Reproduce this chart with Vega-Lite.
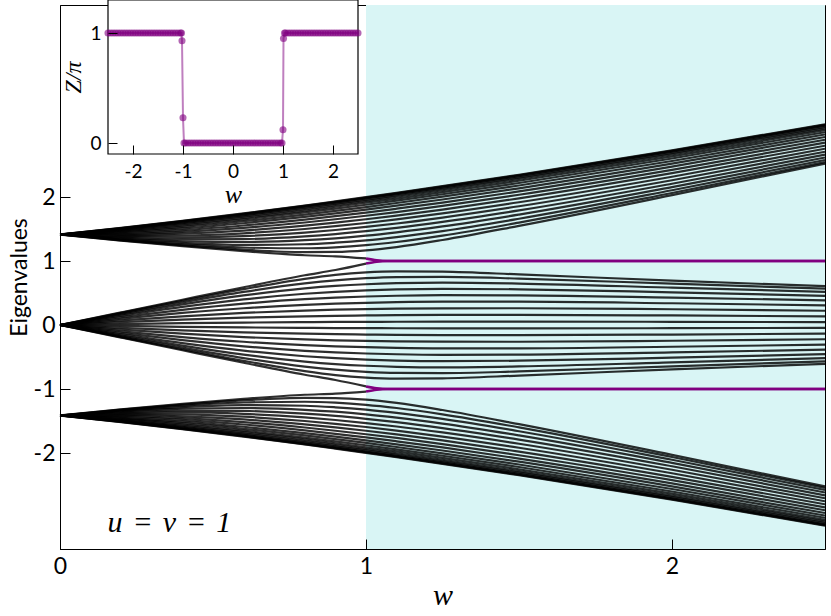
{
"$schema": "https://vega.github.io/schema/vega-lite/v6.json",
"width": 765, "height": 544,
"autosize": {"type": "none"},
"padding": {"left": 60, "top": 5, "right": 6, "bottom": 67},
"background": "white",
"config": {"view": {"stroke": "#000", "strokeWidth": 1}, "font": "Lato"},
"datasets": {
"bands": [
{"w":0,"E":1.414,"line":"T1"},{"w":0.2,"E":1.517,"line":"T1"},{"w":0.4,"E":1.627,"line":"T1"},{"w":0.6,"E":1.744,"line":"T1"},{"w":0.8,"E":1.867,"line":"T1"},{"w":0.9,"E":1.932,"line":"T1"},{"w":1,"E":1.998,"line":"T1"},{"w":1.1,"E":2.065,"line":"T1"},{"w":1.25,"E":2.169,"line":"T1"},{"w":1.5,"E":2.348,"line":"T1"},{"w":2,"E":2.729,"line":"T1"},{"w":2.5,"E":3.135,"line":"T1"},
{"w":0,"E":1.414,"line":"T2"},{"w":0.2,"E":1.514,"line":"T2"},{"w":0.4,"E":1.622,"line":"T2"},{"w":0.6,"E":1.738,"line":"T2"},{"w":0.8,"E":1.861,"line":"T2"},{"w":0.9,"E":1.925,"line":"T2"},{"w":1,"E":1.990,"line":"T2"},{"w":1.1,"E":2.057,"line":"T2"},{"w":1.25,"E":2.161,"line":"T2"},{"w":1.5,"E":2.340,"line":"T2"},{"w":2,"E":2.721,"line":"T2"},{"w":2.5,"E":3.127,"line":"T2"},
{"w":0,"E":1.414,"line":"T3"},{"w":0.2,"E":1.510,"line":"T3"},{"w":0.4,"E":1.614,"line":"T3"},{"w":0.6,"E":1.728,"line":"T3"},{"w":0.8,"E":1.849,"line":"T3"},{"w":0.9,"E":1.913,"line":"T3"},{"w":1,"E":1.978,"line":"T3"},{"w":1.1,"E":2.044,"line":"T3"},{"w":1.25,"E":2.147,"line":"T3"},{"w":1.5,"E":2.326,"line":"T3"},{"w":2,"E":2.708,"line":"T3"},{"w":2.5,"E":3.114,"line":"T3"},
{"w":0,"E":1.414,"line":"T4"},{"w":0.2,"E":1.503,"line":"T4"},{"w":0.4,"E":1.604,"line":"T4"},{"w":0.6,"E":1.714,"line":"T4"},{"w":0.8,"E":1.833,"line":"T4"},{"w":0.9,"E":1.896,"line":"T4"},{"w":1,"E":1.960,"line":"T4"},{"w":1.1,"E":2.027,"line":"T4"},{"w":1.25,"E":2.129,"line":"T4"},{"w":1.5,"E":2.307,"line":"T4"},{"w":2,"E":2.689,"line":"T4"},{"w":2.5,"E":3.096,"line":"T4"},
{"w":0,"E":1.414,"line":"T5"},{"w":0.2,"E":1.495,"line":"T5"},{"w":0.4,"E":1.590,"line":"T5"},{"w":0.6,"E":1.697,"line":"T5"},{"w":0.8,"E":1.813,"line":"T5"},{"w":0.9,"E":1.875,"line":"T5"},{"w":1,"E":1.938,"line":"T5"},{"w":1.1,"E":2.004,"line":"T5"},{"w":1.25,"E":2.105,"line":"T5"},{"w":1.5,"E":2.283,"line":"T5"},{"w":2,"E":2.665,"line":"T5"},{"w":2.5,"E":3.073,"line":"T5"},
{"w":0,"E":1.414,"line":"T6"},{"w":0.2,"E":1.486,"line":"T6"},{"w":0.4,"E":1.574,"line":"T6"},{"w":0.6,"E":1.675,"line":"T6"},{"w":0.8,"E":1.788,"line":"T6"},{"w":0.9,"E":1.849,"line":"T6"},{"w":1,"E":1.911,"line":"T6"},{"w":1.1,"E":1.976,"line":"T6"},{"w":1.25,"E":2.077,"line":"T6"},{"w":1.5,"E":2.254,"line":"T6"},{"w":2,"E":2.636,"line":"T6"},{"w":2.5,"E":3.045,"line":"T6"},
{"w":0,"E":1.414,"line":"T7"},{"w":0.2,"E":1.475,"line":"T7"},{"w":0.4,"E":1.555,"line":"T7"},{"w":0.6,"E":1.650,"line":"T7"},{"w":0.8,"E":1.759,"line":"T7"},{"w":0.9,"E":1.818,"line":"T7"},{"w":1,"E":1.879,"line":"T7"},{"w":1.1,"E":1.943,"line":"T7"},{"w":1.25,"E":2.043,"line":"T7"},{"w":1.5,"E":2.219,"line":"T7"},{"w":2,"E":2.602,"line":"T7"},{"w":2.5,"E":3.013,"line":"T7"},
{"w":0,"E":1.414,"line":"T8"},{"w":0.2,"E":1.463,"line":"T8"},{"w":0.4,"E":1.533,"line":"T8"},{"w":0.6,"E":1.622,"line":"T8"},{"w":0.8,"E":1.726,"line":"T8"},{"w":0.9,"E":1.783,"line":"T8"},{"w":1,"E":1.843,"line":"T8"},{"w":1.1,"E":1.906,"line":"T8"},{"w":1.25,"E":2.005,"line":"T8"},{"w":1.5,"E":2.180,"line":"T8"},{"w":2,"E":2.563,"line":"T8"},{"w":2.5,"E":2.977,"line":"T8"},
{"w":0,"E":1.414,"line":"T9"},{"w":0.2,"E":1.450,"line":"T9"},{"w":0.4,"E":1.509,"line":"T9"},{"w":0.6,"E":1.590,"line":"T9"},{"w":0.8,"E":1.688,"line":"T9"},{"w":0.9,"E":1.743,"line":"T9"},{"w":1,"E":1.802,"line":"T9"},{"w":1.1,"E":1.864,"line":"T9"},{"w":1.25,"E":1.961,"line":"T9"},{"w":1.5,"E":2.136,"line":"T9"},{"w":2,"E":2.521,"line":"T9"},{"w":2.5,"E":2.938,"line":"T9"},
{"w":0,"E":1.414,"line":"T10"},{"w":0.2,"E":1.436,"line":"T10"},{"w":0.4,"E":1.483,"line":"T10"},{"w":0.6,"E":1.555,"line":"T10"},{"w":0.8,"E":1.647,"line":"T10"},{"w":0.9,"E":1.700,"line":"T10"},{"w":1,"E":1.756,"line":"T10"},{"w":1.1,"E":1.817,"line":"T10"},{"w":1.25,"E":1.913,"line":"T10"},{"w":1.5,"E":2.087,"line":"T10"},{"w":2,"E":2.474,"line":"T10"},{"w":2.5,"E":2.895,"line":"T10"},
{"w":0,"E":1.414,"line":"T11"},{"w":0.2,"E":1.421,"line":"T11"},{"w":0.4,"E":1.456,"line":"T11"},{"w":0.6,"E":1.517,"line":"T11"},{"w":0.8,"E":1.602,"line":"T11"},{"w":0.9,"E":1.652,"line":"T11"},{"w":1,"E":1.707,"line":"T11"},{"w":1.1,"E":1.765,"line":"T11"},{"w":1.25,"E":1.861,"line":"T11"},{"w":1.5,"E":2.035,"line":"T11"},{"w":2,"E":2.424,"line":"T11"},{"w":2.5,"E":2.849,"line":"T11"},
{"w":0,"E":1.414,"line":"T12"},{"w":0.2,"E":1.406,"line":"T12"},{"w":0.4,"E":1.427,"line":"T12"},{"w":0.6,"E":1.476,"line":"T12"},{"w":0.8,"E":1.553,"line":"T12"},{"w":0.9,"E":1.600,"line":"T12"},{"w":1,"E":1.652,"line":"T12"},{"w":1.1,"E":1.710,"line":"T12"},{"w":1.25,"E":1.804,"line":"T12"},{"w":1.5,"E":1.978,"line":"T12"},{"w":2,"E":2.372,"line":"T12"},{"w":2.5,"E":2.802,"line":"T12"},
{"w":0,"E":1.414,"line":"T13"},{"w":0.2,"E":1.391,"line":"T13"},{"w":0.4,"E":1.397,"line":"T13"},{"w":0.6,"E":1.433,"line":"T13"},{"w":0.8,"E":1.500,"line":"T13"},{"w":0.9,"E":1.544,"line":"T13"},{"w":1,"E":1.594,"line":"T13"},{"w":1.1,"E":1.650,"line":"T13"},{"w":1.25,"E":1.743,"line":"T13"},{"w":1.5,"E":1.918,"line":"T13"},{"w":2,"E":2.317,"line":"T13"},{"w":2.5,"E":2.754,"line":"T13"},
{"w":0,"E":1.414,"line":"T14"},{"w":0.2,"E":1.376,"line":"T14"},{"w":0.4,"E":1.366,"line":"T14"},{"w":0.6,"E":1.388,"line":"T14"},{"w":0.8,"E":1.444,"line":"T14"},{"w":0.9,"E":1.484,"line":"T14"},{"w":1,"E":1.532,"line":"T14"},{"w":1.1,"E":1.586,"line":"T14"},{"w":1.25,"E":1.679,"line":"T14"},{"w":1.5,"E":1.855,"line":"T14"},{"w":2,"E":2.262,"line":"T14"},{"w":2.5,"E":2.707,"line":"T14"},
{"w":0,"E":1.414,"line":"T15"},{"w":0.2,"E":1.363,"line":"T15"},{"w":0.4,"E":1.337,"line":"T15"},{"w":0.6,"E":1.343,"line":"T15"},{"w":0.8,"E":1.386,"line":"T15"},{"w":0.9,"E":1.421,"line":"T15"},{"w":1,"E":1.466,"line":"T15"},{"w":1.1,"E":1.519,"line":"T15"},{"w":1.25,"E":1.611,"line":"T15"},{"w":1.5,"E":1.790,"line":"T15"},{"w":2,"E":2.207,"line":"T15"},{"w":2.5,"E":2.661,"line":"T15"},
{"w":0,"E":1.414,"line":"T16"},{"w":0.2,"E":1.350,"line":"T16"},{"w":0.4,"E":1.308,"line":"T16"},{"w":0.6,"E":1.297,"line":"T16"},{"w":0.8,"E":1.325,"line":"T16"},{"w":0.9,"E":1.355,"line":"T16"},{"w":1,"E":1.396,"line":"T16"},{"w":1.1,"E":1.448,"line":"T16"},{"w":1.25,"E":1.540,"line":"T16"},{"w":1.5,"E":1.725,"line":"T16"},{"w":2,"E":2.154,"line":"T16"},{"w":2.5,"E":2.617,"line":"T16"},
{"w":0,"E":1.414,"line":"T17"},{"w":0.2,"E":1.339,"line":"T17"},{"w":0.4,"E":1.282,"line":"T17"},{"w":0.6,"E":1.252,"line":"T17"},{"w":0.8,"E":1.262,"line":"T17"},{"w":0.9,"E":1.286,"line":"T17"},{"w":1,"E":1.323,"line":"T17"},{"w":1.1,"E":1.374,"line":"T17"},{"w":1.25,"E":1.468,"line":"T17"},{"w":1.5,"E":1.660,"line":"T17"},{"w":2,"E":2.105,"line":"T17"},{"w":2.5,"E":2.578,"line":"T17"},
{"w":0,"E":1.414,"line":"T18"},{"w":0.2,"E":1.330,"line":"T18"},{"w":0.4,"E":1.260,"line":"T18"},{"w":0.6,"E":1.211,"line":"T18"},{"w":0.8,"E":1.199,"line":"T18"},{"w":0.9,"E":1.214,"line":"T18"},{"w":1,"E":1.247,"line":"T18"},{"w":1.1,"E":1.297,"line":"T18"},{"w":1.25,"E":1.396,"line":"T18"},{"w":1.5,"E":1.600,"line":"T18"},{"w":2,"E":2.062,"line":"T18"},{"w":2.5,"E":2.546,"line":"T18"},
{"w":0,"E":1.414,"line":"T19"},{"w":0.2,"E":1.323,"line":"T19"},{"w":0.4,"E":1.243,"line":"T19"},{"w":0.6,"E":1.177,"line":"T19"},{"w":0.8,"E":1.139,"line":"T19"},{"w":0.9,"E":1.142,"line":"T19"},{"w":1,"E":1.167,"line":"T19"},{"w":1.1,"E":1.218,"line":"T19"},{"w":1.25,"E":1.328,"line":"T19"},{"w":1.5,"E":1.549,"line":"T19"},{"w":2,"E":2.029,"line":"T19"},{"w":2.5,"E":2.521,"line":"T19"},
{"w":0,"E":1.414,"line":"T20"},{"w":0.2,"E":1.319,"line":"T20"},{"w":0.4,"E":1.232,"line":"T20"},{"w":0.6,"E":1.154,"line":"T20"},{"w":0.8,"E":1.090,"line":"T20"},{"w":0.9,"E":1.073,"line":"T20"},{"w":1,"E":1.040,"line":"T20"},
{"w":0,"E":-1.414,"line":"B20"},{"w":0.2,"E":-1.517,"line":"B20"},{"w":0.4,"E":-1.627,"line":"B20"},{"w":0.6,"E":-1.744,"line":"B20"},{"w":0.8,"E":-1.867,"line":"B20"},{"w":0.9,"E":-1.932,"line":"B20"},{"w":1,"E":-1.998,"line":"B20"},{"w":1.1,"E":-2.065,"line":"B20"},{"w":1.25,"E":-2.169,"line":"B20"},{"w":1.5,"E":-2.348,"line":"B20"},{"w":2,"E":-2.729,"line":"B20"},{"w":2.5,"E":-3.135,"line":"B20"},
{"w":0,"E":-1.414,"line":"B19"},{"w":0.2,"E":-1.514,"line":"B19"},{"w":0.4,"E":-1.622,"line":"B19"},{"w":0.6,"E":-1.738,"line":"B19"},{"w":0.8,"E":-1.861,"line":"B19"},{"w":0.9,"E":-1.925,"line":"B19"},{"w":1,"E":-1.990,"line":"B19"},{"w":1.1,"E":-2.057,"line":"B19"},{"w":1.25,"E":-2.161,"line":"B19"},{"w":1.5,"E":-2.340,"line":"B19"},{"w":2,"E":-2.721,"line":"B19"},{"w":2.5,"E":-3.127,"line":"B19"},
{"w":0,"E":-1.414,"line":"B18"},{"w":0.2,"E":-1.510,"line":"B18"},{"w":0.4,"E":-1.614,"line":"B18"},{"w":0.6,"E":-1.728,"line":"B18"},{"w":0.8,"E":-1.849,"line":"B18"},{"w":0.9,"E":-1.913,"line":"B18"},{"w":1,"E":-1.978,"line":"B18"},{"w":1.1,"E":-2.044,"line":"B18"},{"w":1.25,"E":-2.147,"line":"B18"},{"w":1.5,"E":-2.326,"line":"B18"},{"w":2,"E":-2.708,"line":"B18"},{"w":2.5,"E":-3.114,"line":"B18"},
{"w":0,"E":-1.414,"line":"B17"},{"w":0.2,"E":-1.503,"line":"B17"},{"w":0.4,"E":-1.604,"line":"B17"},{"w":0.6,"E":-1.714,"line":"B17"},{"w":0.8,"E":-1.833,"line":"B17"},{"w":0.9,"E":-1.896,"line":"B17"},{"w":1,"E":-1.960,"line":"B17"},{"w":1.1,"E":-2.027,"line":"B17"},{"w":1.25,"E":-2.129,"line":"B17"},{"w":1.5,"E":-2.307,"line":"B17"},{"w":2,"E":-2.689,"line":"B17"},{"w":2.5,"E":-3.096,"line":"B17"},
{"w":0,"E":-1.414,"line":"B16"},{"w":0.2,"E":-1.495,"line":"B16"},{"w":0.4,"E":-1.590,"line":"B16"},{"w":0.6,"E":-1.697,"line":"B16"},{"w":0.8,"E":-1.813,"line":"B16"},{"w":0.9,"E":-1.875,"line":"B16"},{"w":1,"E":-1.938,"line":"B16"},{"w":1.1,"E":-2.004,"line":"B16"},{"w":1.25,"E":-2.105,"line":"B16"},{"w":1.5,"E":-2.283,"line":"B16"},{"w":2,"E":-2.665,"line":"B16"},{"w":2.5,"E":-3.073,"line":"B16"},
{"w":0,"E":-1.414,"line":"B15"},{"w":0.2,"E":-1.486,"line":"B15"},{"w":0.4,"E":-1.574,"line":"B15"},{"w":0.6,"E":-1.675,"line":"B15"},{"w":0.8,"E":-1.788,"line":"B15"},{"w":0.9,"E":-1.849,"line":"B15"},{"w":1,"E":-1.911,"line":"B15"},{"w":1.1,"E":-1.976,"line":"B15"},{"w":1.25,"E":-2.077,"line":"B15"},{"w":1.5,"E":-2.254,"line":"B15"},{"w":2,"E":-2.636,"line":"B15"},{"w":2.5,"E":-3.045,"line":"B15"},
{"w":0,"E":-1.414,"line":"B14"},{"w":0.2,"E":-1.475,"line":"B14"},{"w":0.4,"E":-1.555,"line":"B14"},{"w":0.6,"E":-1.650,"line":"B14"},{"w":0.8,"E":-1.759,"line":"B14"},{"w":0.9,"E":-1.818,"line":"B14"},{"w":1,"E":-1.879,"line":"B14"},{"w":1.1,"E":-1.943,"line":"B14"},{"w":1.25,"E":-2.043,"line":"B14"},{"w":1.5,"E":-2.219,"line":"B14"},{"w":2,"E":-2.602,"line":"B14"},{"w":2.5,"E":-3.013,"line":"B14"},
{"w":0,"E":-1.414,"line":"B13"},{"w":0.2,"E":-1.463,"line":"B13"},{"w":0.4,"E":-1.533,"line":"B13"},{"w":0.6,"E":-1.622,"line":"B13"},{"w":0.8,"E":-1.726,"line":"B13"},{"w":0.9,"E":-1.783,"line":"B13"},{"w":1,"E":-1.843,"line":"B13"},{"w":1.1,"E":-1.906,"line":"B13"},{"w":1.25,"E":-2.005,"line":"B13"},{"w":1.5,"E":-2.180,"line":"B13"},{"w":2,"E":-2.563,"line":"B13"},{"w":2.5,"E":-2.977,"line":"B13"},
{"w":0,"E":-1.414,"line":"B12"},{"w":0.2,"E":-1.450,"line":"B12"},{"w":0.4,"E":-1.509,"line":"B12"},{"w":0.6,"E":-1.590,"line":"B12"},{"w":0.8,"E":-1.688,"line":"B12"},{"w":0.9,"E":-1.743,"line":"B12"},{"w":1,"E":-1.802,"line":"B12"},{"w":1.1,"E":-1.864,"line":"B12"},{"w":1.25,"E":-1.961,"line":"B12"},{"w":1.5,"E":-2.136,"line":"B12"},{"w":2,"E":-2.521,"line":"B12"},{"w":2.5,"E":-2.938,"line":"B12"},
{"w":0,"E":-1.414,"line":"B11"},{"w":0.2,"E":-1.436,"line":"B11"},{"w":0.4,"E":-1.483,"line":"B11"},{"w":0.6,"E":-1.555,"line":"B11"},{"w":0.8,"E":-1.647,"line":"B11"},{"w":0.9,"E":-1.700,"line":"B11"},{"w":1,"E":-1.756,"line":"B11"},{"w":1.1,"E":-1.817,"line":"B11"},{"w":1.25,"E":-1.913,"line":"B11"},{"w":1.5,"E":-2.087,"line":"B11"},{"w":2,"E":-2.474,"line":"B11"},{"w":2.5,"E":-2.895,"line":"B11"},
{"w":0,"E":-1.414,"line":"B10"},{"w":0.2,"E":-1.421,"line":"B10"},{"w":0.4,"E":-1.456,"line":"B10"},{"w":0.6,"E":-1.517,"line":"B10"},{"w":0.8,"E":-1.602,"line":"B10"},{"w":0.9,"E":-1.652,"line":"B10"},{"w":1,"E":-1.707,"line":"B10"},{"w":1.1,"E":-1.765,"line":"B10"},{"w":1.25,"E":-1.861,"line":"B10"},{"w":1.5,"E":-2.035,"line":"B10"},{"w":2,"E":-2.424,"line":"B10"},{"w":2.5,"E":-2.849,"line":"B10"},
{"w":0,"E":-1.414,"line":"B9"},{"w":0.2,"E":-1.406,"line":"B9"},{"w":0.4,"E":-1.427,"line":"B9"},{"w":0.6,"E":-1.476,"line":"B9"},{"w":0.8,"E":-1.553,"line":"B9"},{"w":0.9,"E":-1.600,"line":"B9"},{"w":1,"E":-1.652,"line":"B9"},{"w":1.1,"E":-1.710,"line":"B9"},{"w":1.25,"E":-1.804,"line":"B9"},{"w":1.5,"E":-1.978,"line":"B9"},{"w":2,"E":-2.372,"line":"B9"},{"w":2.5,"E":-2.802,"line":"B9"},
{"w":0,"E":-1.414,"line":"B8"},{"w":0.2,"E":-1.391,"line":"B8"},{"w":0.4,"E":-1.397,"line":"B8"},{"w":0.6,"E":-1.433,"line":"B8"},{"w":0.8,"E":-1.500,"line":"B8"},{"w":0.9,"E":-1.544,"line":"B8"},{"w":1,"E":-1.594,"line":"B8"},{"w":1.1,"E":-1.650,"line":"B8"},{"w":1.25,"E":-1.743,"line":"B8"},{"w":1.5,"E":-1.918,"line":"B8"},{"w":2,"E":-2.317,"line":"B8"},{"w":2.5,"E":-2.754,"line":"B8"},
{"w":0,"E":-1.414,"line":"B7"},{"w":0.2,"E":-1.376,"line":"B7"},{"w":0.4,"E":-1.366,"line":"B7"},{"w":0.6,"E":-1.388,"line":"B7"},{"w":0.8,"E":-1.444,"line":"B7"},{"w":0.9,"E":-1.484,"line":"B7"},{"w":1,"E":-1.532,"line":"B7"},{"w":1.1,"E":-1.586,"line":"B7"},{"w":1.25,"E":-1.679,"line":"B7"},{"w":1.5,"E":-1.855,"line":"B7"},{"w":2,"E":-2.262,"line":"B7"},{"w":2.5,"E":-2.707,"line":"B7"},
{"w":0,"E":-1.414,"line":"B6"},{"w":0.2,"E":-1.363,"line":"B6"},{"w":0.4,"E":-1.337,"line":"B6"},{"w":0.6,"E":-1.343,"line":"B6"},{"w":0.8,"E":-1.386,"line":"B6"},{"w":0.9,"E":-1.421,"line":"B6"},{"w":1,"E":-1.466,"line":"B6"},{"w":1.1,"E":-1.519,"line":"B6"},{"w":1.25,"E":-1.611,"line":"B6"},{"w":1.5,"E":-1.790,"line":"B6"},{"w":2,"E":-2.207,"line":"B6"},{"w":2.5,"E":-2.661,"line":"B6"},
{"w":0,"E":-1.414,"line":"B5"},{"w":0.2,"E":-1.350,"line":"B5"},{"w":0.4,"E":-1.308,"line":"B5"},{"w":0.6,"E":-1.297,"line":"B5"},{"w":0.8,"E":-1.325,"line":"B5"},{"w":0.9,"E":-1.355,"line":"B5"},{"w":1,"E":-1.396,"line":"B5"},{"w":1.1,"E":-1.448,"line":"B5"},{"w":1.25,"E":-1.540,"line":"B5"},{"w":1.5,"E":-1.725,"line":"B5"},{"w":2,"E":-2.154,"line":"B5"},{"w":2.5,"E":-2.617,"line":"B5"},
{"w":0,"E":-1.414,"line":"B4"},{"w":0.2,"E":-1.339,"line":"B4"},{"w":0.4,"E":-1.282,"line":"B4"},{"w":0.6,"E":-1.252,"line":"B4"},{"w":0.8,"E":-1.262,"line":"B4"},{"w":0.9,"E":-1.286,"line":"B4"},{"w":1,"E":-1.323,"line":"B4"},{"w":1.1,"E":-1.374,"line":"B4"},{"w":1.25,"E":-1.468,"line":"B4"},{"w":1.5,"E":-1.660,"line":"B4"},{"w":2,"E":-2.105,"line":"B4"},{"w":2.5,"E":-2.578,"line":"B4"},
{"w":0,"E":-1.414,"line":"B3"},{"w":0.2,"E":-1.330,"line":"B3"},{"w":0.4,"E":-1.260,"line":"B3"},{"w":0.6,"E":-1.211,"line":"B3"},{"w":0.8,"E":-1.199,"line":"B3"},{"w":0.9,"E":-1.214,"line":"B3"},{"w":1,"E":-1.247,"line":"B3"},{"w":1.1,"E":-1.297,"line":"B3"},{"w":1.25,"E":-1.396,"line":"B3"},{"w":1.5,"E":-1.600,"line":"B3"},{"w":2,"E":-2.062,"line":"B3"},{"w":2.5,"E":-2.546,"line":"B3"},
{"w":0,"E":-1.414,"line":"B2"},{"w":0.2,"E":-1.323,"line":"B2"},{"w":0.4,"E":-1.243,"line":"B2"},{"w":0.6,"E":-1.177,"line":"B2"},{"w":0.8,"E":-1.139,"line":"B2"},{"w":0.9,"E":-1.142,"line":"B2"},{"w":1,"E":-1.167,"line":"B2"},{"w":1.1,"E":-1.218,"line":"B2"},{"w":1.25,"E":-1.328,"line":"B2"},{"w":1.5,"E":-1.549,"line":"B2"},{"w":2,"E":-2.029,"line":"B2"},{"w":2.5,"E":-2.521,"line":"B2"},
{"w":0,"E":-1.414,"line":"B1"},{"w":0.2,"E":-1.319,"line":"B1"},{"w":0.4,"E":-1.232,"line":"B1"},{"w":0.6,"E":-1.154,"line":"B1"},{"w":0.8,"E":-1.090,"line":"B1"},{"w":0.9,"E":-1.073,"line":"B1"},{"w":1,"E":-1.040,"line":"B1"},
{"w":0,"E":0,"line":"M1"},{"w":0.2,"E":-0.198,"line":"M1"},{"w":0.4,"E":-0.395,"line":"M1"},{"w":0.6,"E":-0.590,"line":"M1"},{"w":0.8,"E":-0.777,"line":"M1"},{"w":0.9,"E":-0.859,"line":"M1"},{"w":1,"E":-0.960,"line":"M1"},
{"w":0,"E":0,"line":"M2"},{"w":0.2,"E":-0.191,"line":"M2"},{"w":0.4,"E":-0.379,"line":"M2"},{"w":0.6,"E":-0.560,"line":"M2"},{"w":0.8,"E":-0.721,"line":"M2"},{"w":0.9,"E":-0.783,"line":"M2"},{"w":1,"E":-0.823,"line":"M2"},{"w":1.1,"E":-0.839,"line":"M2"},{"w":1.25,"E":-0.833,"line":"M2"},{"w":1.5,"E":-0.791,"line":"M2"},{"w":2,"E":-0.692,"line":"M2"},{"w":2.5,"E":-0.606,"line":"M2"},
{"w":0,"E":0,"line":"M3"},{"w":0.2,"E":-0.179,"line":"M3"},{"w":0.4,"E":-0.354,"line":"M3"},{"w":0.6,"E":-0.517,"line":"M3"},{"w":0.8,"E":-0.650,"line":"M3"},{"w":0.9,"E":-0.698,"line":"M3"},{"w":1,"E":-0.731,"line":"M3"},{"w":1.1,"E":-0.748,"line":"M3"},{"w":1.25,"E":-0.751,"line":"M3"},{"w":1.5,"E":-0.726,"line":"M3"},{"w":2,"E":-0.645,"line":"M3"},{"w":2.5,"E":-0.568,"line":"M3"},
{"w":0,"E":0,"line":"M4"},{"w":0.2,"E":-0.164,"line":"M4"},{"w":0.4,"E":-0.321,"line":"M4"},{"w":0.6,"E":-0.462,"line":"M4"},{"w":0.8,"E":-0.571,"line":"M4"},{"w":0.9,"E":-0.610,"line":"M4"},{"w":1,"E":-0.637,"line":"M4"},{"w":1.1,"E":-0.653,"line":"M4"},{"w":1.25,"E":-0.661,"line":"M4"},{"w":1.5,"E":-0.647,"line":"M4"},{"w":2,"E":-0.584,"line":"M4"},{"w":2.5,"E":-0.518,"line":"M4"},
{"w":0,"E":0,"line":"M5"},{"w":0.2,"E":-0.145,"line":"M5"},{"w":0.4,"E":-0.282,"line":"M5"},{"w":0.6,"E":-0.400,"line":"M5"},{"w":0.8,"E":-0.488,"line":"M5"},{"w":0.9,"E":-0.519,"line":"M5"},{"w":1,"E":-0.542,"line":"M5"},{"w":1.1,"E":-0.556,"line":"M5"},{"w":1.25,"E":-0.565,"line":"M5"},{"w":1.5,"E":-0.558,"line":"M5"},{"w":2,"E":-0.511,"line":"M5"},{"w":2.5,"E":-0.456,"line":"M5"},
{"w":0,"E":0,"line":"M6"},{"w":0.2,"E":-0.123,"line":"M6"},{"w":0.4,"E":-0.237,"line":"M6"},{"w":0.6,"E":-0.333,"line":"M6"},{"w":0.8,"E":-0.403,"line":"M6"},{"w":0.9,"E":-0.427,"line":"M6"},{"w":1,"E":-0.445,"line":"M6"},{"w":1.1,"E":-0.457,"line":"M6"},{"w":1.25,"E":-0.466,"line":"M6"},{"w":1.5,"E":-0.464,"line":"M6"},{"w":2,"E":-0.429,"line":"M6"},{"w":2.5,"E":-0.385,"line":"M6"},
{"w":0,"E":0,"line":"M7"},{"w":0.2,"E":-0.098,"line":"M7"},{"w":0.4,"E":-0.188,"line":"M7"},{"w":0.6,"E":-0.262,"line":"M7"},{"w":0.8,"E":-0.315,"line":"M7"},{"w":0.9,"E":-0.333,"line":"M7"},{"w":1,"E":-0.347,"line":"M7"},{"w":1.1,"E":-0.357,"line":"M7"},{"w":1.25,"E":-0.364,"line":"M7"},{"w":1.5,"E":-0.364,"line":"M7"},{"w":2,"E":-0.340,"line":"M7"},{"w":2.5,"E":-0.307,"line":"M7"},
{"w":0,"E":0,"line":"M8"},{"w":0.2,"E":-0.072,"line":"M8"},{"w":0.4,"E":-0.136,"line":"M8"},{"w":0.6,"E":-0.189,"line":"M8"},{"w":0.8,"E":-0.226,"line":"M8"},{"w":0.9,"E":-0.239,"line":"M8"},{"w":1,"E":-0.249,"line":"M8"},{"w":1.1,"E":-0.256,"line":"M8"},{"w":1.25,"E":-0.261,"line":"M8"},{"w":1.5,"E":-0.262,"line":"M8"},{"w":2,"E":-0.246,"line":"M8"},{"w":2.5,"E":-0.223,"line":"M8"},
{"w":0,"E":0,"line":"M9"},{"w":0.2,"E":-0.044,"line":"M9"},{"w":0.4,"E":-0.083,"line":"M9"},{"w":0.6,"E":-0.114,"line":"M9"},{"w":0.8,"E":-0.136,"line":"M9"},{"w":0.9,"E":-0.144,"line":"M9"},{"w":1,"E":-0.149,"line":"M9"},{"w":1.1,"E":-0.154,"line":"M9"},{"w":1.25,"E":-0.157,"line":"M9"},{"w":1.5,"E":-0.158,"line":"M9"},{"w":2,"E":-0.149,"line":"M9"},{"w":2.5,"E":-0.135,"line":"M9"},
{"w":0,"E":0,"line":"M10"},{"w":0.2,"E":-0.015,"line":"M10"},{"w":0.4,"E":-0.028,"line":"M10"},{"w":0.6,"E":-0.038,"line":"M10"},{"w":0.8,"E":-0.045,"line":"M10"},{"w":0.9,"E":-0.048,"line":"M10"},{"w":1,"E":-0.049,"line":"M10"},{"w":1.1,"E":-0.051,"line":"M10"},{"w":1.25,"E":-0.052,"line":"M10"},{"w":1.5,"E":-0.053,"line":"M10"},{"w":2,"E":-0.050,"line":"M10"},{"w":2.5,"E":-0.045,"line":"M10"},
{"w":0,"E":0,"line":"M11"},{"w":0.2,"E":0.015,"line":"M11"},{"w":0.4,"E":0.028,"line":"M11"},{"w":0.6,"E":0.038,"line":"M11"},{"w":0.8,"E":0.045,"line":"M11"},{"w":0.9,"E":0.048,"line":"M11"},{"w":1,"E":0.049,"line":"M11"},{"w":1.1,"E":0.051,"line":"M11"},{"w":1.25,"E":0.052,"line":"M11"},{"w":1.5,"E":0.053,"line":"M11"},{"w":2,"E":0.050,"line":"M11"},{"w":2.5,"E":0.045,"line":"M11"},
{"w":0,"E":0,"line":"M12"},{"w":0.2,"E":0.044,"line":"M12"},{"w":0.4,"E":0.083,"line":"M12"},{"w":0.6,"E":0.114,"line":"M12"},{"w":0.8,"E":0.136,"line":"M12"},{"w":0.9,"E":0.144,"line":"M12"},{"w":1,"E":0.149,"line":"M12"},{"w":1.1,"E":0.154,"line":"M12"},{"w":1.25,"E":0.157,"line":"M12"},{"w":1.5,"E":0.158,"line":"M12"},{"w":2,"E":0.149,"line":"M12"},{"w":2.5,"E":0.135,"line":"M12"},
{"w":0,"E":0,"line":"M13"},{"w":0.2,"E":0.072,"line":"M13"},{"w":0.4,"E":0.136,"line":"M13"},{"w":0.6,"E":0.189,"line":"M13"},{"w":0.8,"E":0.226,"line":"M13"},{"w":0.9,"E":0.239,"line":"M13"},{"w":1,"E":0.249,"line":"M13"},{"w":1.1,"E":0.256,"line":"M13"},{"w":1.25,"E":0.261,"line":"M13"},{"w":1.5,"E":0.262,"line":"M13"},{"w":2,"E":0.246,"line":"M13"},{"w":2.5,"E":0.223,"line":"M13"},
{"w":0,"E":0,"line":"M14"},{"w":0.2,"E":0.098,"line":"M14"},{"w":0.4,"E":0.188,"line":"M14"},{"w":0.6,"E":0.262,"line":"M14"},{"w":0.8,"E":0.315,"line":"M14"},{"w":0.9,"E":0.333,"line":"M14"},{"w":1,"E":0.347,"line":"M14"},{"w":1.1,"E":0.357,"line":"M14"},{"w":1.25,"E":0.364,"line":"M14"},{"w":1.5,"E":0.364,"line":"M14"},{"w":2,"E":0.340,"line":"M14"},{"w":2.5,"E":0.307,"line":"M14"},
{"w":0,"E":0,"line":"M15"},{"w":0.2,"E":0.123,"line":"M15"},{"w":0.4,"E":0.237,"line":"M15"},{"w":0.6,"E":0.333,"line":"M15"},{"w":0.8,"E":0.403,"line":"M15"},{"w":0.9,"E":0.427,"line":"M15"},{"w":1,"E":0.445,"line":"M15"},{"w":1.1,"E":0.457,"line":"M15"},{"w":1.25,"E":0.466,"line":"M15"},{"w":1.5,"E":0.464,"line":"M15"},{"w":2,"E":0.429,"line":"M15"},{"w":2.5,"E":0.385,"line":"M15"},
{"w":0,"E":0,"line":"M16"},{"w":0.2,"E":0.145,"line":"M16"},{"w":0.4,"E":0.282,"line":"M16"},{"w":0.6,"E":0.400,"line":"M16"},{"w":0.8,"E":0.488,"line":"M16"},{"w":0.9,"E":0.519,"line":"M16"},{"w":1,"E":0.542,"line":"M16"},{"w":1.1,"E":0.556,"line":"M16"},{"w":1.25,"E":0.565,"line":"M16"},{"w":1.5,"E":0.558,"line":"M16"},{"w":2,"E":0.511,"line":"M16"},{"w":2.5,"E":0.456,"line":"M16"},
{"w":0,"E":0,"line":"M17"},{"w":0.2,"E":0.164,"line":"M17"},{"w":0.4,"E":0.321,"line":"M17"},{"w":0.6,"E":0.462,"line":"M17"},{"w":0.8,"E":0.571,"line":"M17"},{"w":0.9,"E":0.610,"line":"M17"},{"w":1,"E":0.637,"line":"M17"},{"w":1.1,"E":0.653,"line":"M17"},{"w":1.25,"E":0.661,"line":"M17"},{"w":1.5,"E":0.647,"line":"M17"},{"w":2,"E":0.584,"line":"M17"},{"w":2.5,"E":0.518,"line":"M17"},
{"w":0,"E":0,"line":"M18"},{"w":0.2,"E":0.179,"line":"M18"},{"w":0.4,"E":0.354,"line":"M18"},{"w":0.6,"E":0.517,"line":"M18"},{"w":0.8,"E":0.650,"line":"M18"},{"w":0.9,"E":0.698,"line":"M18"},{"w":1,"E":0.731,"line":"M18"},{"w":1.1,"E":0.748,"line":"M18"},{"w":1.25,"E":0.751,"line":"M18"},{"w":1.5,"E":0.726,"line":"M18"},{"w":2,"E":0.645,"line":"M18"},{"w":2.5,"E":0.568,"line":"M18"},
{"w":0,"E":0,"line":"M19"},{"w":0.2,"E":0.191,"line":"M19"},{"w":0.4,"E":0.379,"line":"M19"},{"w":0.6,"E":0.560,"line":"M19"},{"w":0.8,"E":0.721,"line":"M19"},{"w":0.9,"E":0.783,"line":"M19"},{"w":1,"E":0.823,"line":"M19"},{"w":1.1,"E":0.839,"line":"M19"},{"w":1.25,"E":0.833,"line":"M19"},{"w":1.5,"E":0.791,"line":"M19"},{"w":2,"E":0.692,"line":"M19"},{"w":2.5,"E":0.606,"line":"M19"},
{"w":0,"E":0,"line":"M20"},{"w":0.2,"E":0.198,"line":"M20"},{"w":0.4,"E":0.395,"line":"M20"},{"w":0.6,"E":0.590,"line":"M20"},{"w":0.8,"E":0.777,"line":"M20"},{"w":0.9,"E":0.859,"line":"M20"},{"w":1,"E":0.960,"line":"M20"}
],
"edges": [
{"w":1,"E":1.04,"line":"Pa"},{"w":1.035,"E":1.012,"line":"Pa"},{"w":1.07,"E":1.0,"line":"Pa"},{"w":2.5,"E":1.0,"line":"Pa"},
{"w":1,"E":0.96,"line":"Pb"},{"w":1.035,"E":0.988,"line":"Pb"},{"w":1.07,"E":1.0,"line":"Pb"},{"w":2.5,"E":1.0,"line":"Pb"},
{"w":1,"E":-1.04,"line":"Pc"},{"w":1.035,"E":-1.012,"line":"Pc"},{"w":1.07,"E":-1.0,"line":"Pc"},{"w":2.5,"E":-1.0,"line":"Pc"},
{"w":1,"E":-0.96,"line":"Pd"},{"w":1.035,"E":-0.988,"line":"Pd"},{"w":1.07,"E":-1.0,"line":"Pd"},{"w":2.5,"E":-1.0,"line":"Pd"}
],
"zak": [
{"w":-2.5,"Z":1},{"w":-2.45,"Z":1},{"w":-2.4,"Z":1},{"w":-2.35,"Z":1},{"w":-2.3,"Z":1},{"w":-2.25,"Z":1},{"w":-2.2,"Z":1},{"w":-2.15,"Z":1},{"w":-2.1,"Z":1},{"w":-2.05,"Z":1},
{"w":-2.0,"Z":1},{"w":-1.95,"Z":1},{"w":-1.9,"Z":1},{"w":-1.85,"Z":1},{"w":-1.8,"Z":1},{"w":-1.75,"Z":1},{"w":-1.7,"Z":1},{"w":-1.65,"Z":1},{"w":-1.6,"Z":1},{"w":-1.55,"Z":1},
{"w":-1.5,"Z":1},{"w":-1.45,"Z":1},{"w":-1.4,"Z":1},{"w":-1.35,"Z":1},{"w":-1.3,"Z":1},{"w":-1.25,"Z":1},{"w":-1.2,"Z":1},{"w":-1.15,"Z":1},{"w":-1.1,"Z":1},{"w":-1.05,"Z":1},
{"w":-1.03,"Z":1},{"w":-1.02,"Z":0.93},{"w":-1.0,"Z":0.23},{"w":-0.98,"Z":0},
{"w":-0.95,"Z":0},{"w":-0.9,"Z":0},{"w":-0.85,"Z":0},{"w":-0.8,"Z":0},{"w":-0.75,"Z":0},{"w":-0.7,"Z":0},{"w":-0.65,"Z":0},{"w":-0.6,"Z":0},{"w":-0.55,"Z":0},{"w":-0.5,"Z":0},
{"w":-0.45,"Z":0},{"w":-0.4,"Z":0},{"w":-0.35,"Z":0},{"w":-0.3,"Z":0},{"w":-0.25,"Z":0},{"w":-0.2,"Z":0},{"w":-0.15,"Z":0},{"w":-0.1,"Z":0},{"w":-0.05,"Z":0},{"w":0,"Z":0},
{"w":0.05,"Z":0},{"w":0.1,"Z":0},{"w":0.15,"Z":0},{"w":0.2,"Z":0},{"w":0.25,"Z":0},{"w":0.3,"Z":0},{"w":0.35,"Z":0},{"w":0.4,"Z":0},{"w":0.45,"Z":0},{"w":0.5,"Z":0},
{"w":0.55,"Z":0},{"w":0.6,"Z":0},{"w":0.65,"Z":0},{"w":0.7,"Z":0},{"w":0.75,"Z":0},{"w":0.8,"Z":0},{"w":0.85,"Z":0},{"w":0.9,"Z":0},{"w":0.95,"Z":0},
{"w":0.98,"Z":0},{"w":1.0,"Z":0.12},{"w":1.01,"Z":0.95},{"w":1.03,"Z":1},
{"w":1.05,"Z":1},{"w":1.1,"Z":1},{"w":1.15,"Z":1},{"w":1.2,"Z":1},{"w":1.25,"Z":1},{"w":1.3,"Z":1},{"w":1.35,"Z":1},{"w":1.4,"Z":1},{"w":1.45,"Z":1},{"w":1.5,"Z":1},
{"w":1.55,"Z":1},{"w":1.6,"Z":1},{"w":1.65,"Z":1},{"w":1.7,"Z":1},{"w":1.75,"Z":1},{"w":1.8,"Z":1},{"w":1.85,"Z":1},{"w":1.9,"Z":1},{"w":1.95,"Z":1},{"w":2.0,"Z":1},
{"w":2.05,"Z":1},{"w":2.1,"Z":1},{"w":2.15,"Z":1},{"w":2.2,"Z":1},{"w":2.25,"Z":1},{"w":2.3,"Z":1},{"w":2.35,"Z":1},{"w":2.4,"Z":1},{"w":2.45,"Z":1},{"w":2.5,"Z":1}
]
},
"layer": [
{
"encoding": {
"x": {"field": "w", "type": "quantitative", "scale": {"domain": [0, 2.5], "nice": false, "zero": false},
"axis": {"values": [0, 1, 2], "tickSize": -10, "labelPadding": 16, "labelFontSize": 23, "labelFont": "Lato", "labelColor": "black", "tickColor": "black", "domainColor": "black", "grid": false, "labelExpr": "'' + datum.value", "labelFlush": false, "zindex": 2,
"title": "w", "titleFont": "Liberation Serif", "titleFontStyle": "italic", "titleFontWeight": "normal", "titleFontSize": 30, "titleColor": "black", "titlePadding": 2}},
"y": {"field": "E", "type": "quantitative", "scale": {"domain": [-3.5, 5], "nice": false, "zero": false},
"axis": {"values": [-2, -1, 0, 1, 2], "tickSize": -10, "labelPadding": 15, "labelFontSize": 23, "labelFont": "Lato", "labelColor": "black", "tickColor": "black", "domainColor": "black", "grid": false, "labelExpr": "'' + datum.value", "zindex": 2,
"title": "Eigenvalues", "titleFont": "Lato", "titleFontWeight": "normal", "titleFontSize": 23, "titleColor": "black", "titlePadding": 2}}
},
"layer": [
{"data": {"values": [{"w": 1, "w2": 2.5, "E": -3.5, "E2": 5}]}, "mark": {"type": "rect", "fill": "#d9f5f5", "stroke": null},
 "encoding": {"x2": {"field": "w2"}, "y2": {"field": "E2"}}},
{"data": {"name": "bands"}, "mark": {"type": "line", "color": "#000", "opacity": 0.82, "strokeWidth": 2.2, "interpolate": "monotone"},
 "encoding": {"detail": {"field": "line", "type": "nominal"}}},
{"data": {"name": "edges"}, "mark": {"type": "line", "color": "#800080", "strokeWidth": 2.6, "interpolate": "monotone"},
 "encoding": {"detail": {"field": "line", "type": "nominal"}}},
{"data": {"values": [{"w": 0.155, "E": -3.09, "label": "u\u2004=\u2004v\u2004=\u20041"}]}, "mark": {"type": "text", "font": "Liberation Serif", "fontStyle": "italic", "fontSize": 30, "align": "left", "baseline": "middle", "color": "black"},
 "encoding": {"text": {"field": "label"}}}
]
},
{
"data": {"name": "zak"},
"encoding": {
"x": {"field": "w", "type": "quantitative", "scale": {"domain": [-2.5, 2.5], "range": [48, 298], "nice": false, "zero": false},
"axis": {"orient": "bottom", "offset": -395, "values": [-2, -1, 0, 1, 2], "tickSize": -9, "labelPadding": 17, "labelFontSize": 19, "labelFont": "Lato", "labelColor": "black", "tickColor": "black", "domain": false, "grid": false, "labelExpr": "'' + datum.value", "labelFlush": false, "zindex": 2,
"title": "w", "titleFont": "Liberation Serif", "titleFontStyle": "italic", "titleFontWeight": "normal", "titleFontSize": 26, "titleColor": "black", "titlePadding": 0}},
"y": {"field": "Z", "type": "quantitative", "scale": {"domain": [-0.1, 1.3], "range": [149, -5], "nice": false, "zero": false},
"axis": {"orient": "left", "offset": -48, "values": [0, 1], "tickSize": -9, "labelPadding": 16, "labelFontSize": 19, "labelFont": "Lato", "labelColor": "black", "tickColor": "black", "domain": false, "grid": false, "labelExpr": "'' + datum.value", "zindex": 2,
"title": "Z/π", "titleFont": "Liberation Serif", "titleFontStyle": "italic", "titleFontWeight": "normal", "titleFontSize": 24, "titleColor": "black", "titlePadding": 4}}
},
"layer": [
{"data": {"values": [{"w": -2.5, "w2": 2.5, "Z": -0.1, "Z2": 1.3}]}, "mark": {"type": "rect", "fill": "white", "stroke": "black", "strokeWidth": 1.2},
 "encoding": {"x2": {"field": "w2"}, "y2": {"field": "Z2"}}},
{"mark": {"type": "line", "color": "#800080", "opacity": 0.5, "strokeWidth": 2}, "encoding": {}},
{"mark": {"type": "circle", "color": "#800080", "opacity": 0.6, "size": 50}, "encoding": {}}
]
}
],
"resolve": {"scale": {"x": "independent", "y": "independent"}, "axis": {"x": "independent", "y": "independent"}}
}
